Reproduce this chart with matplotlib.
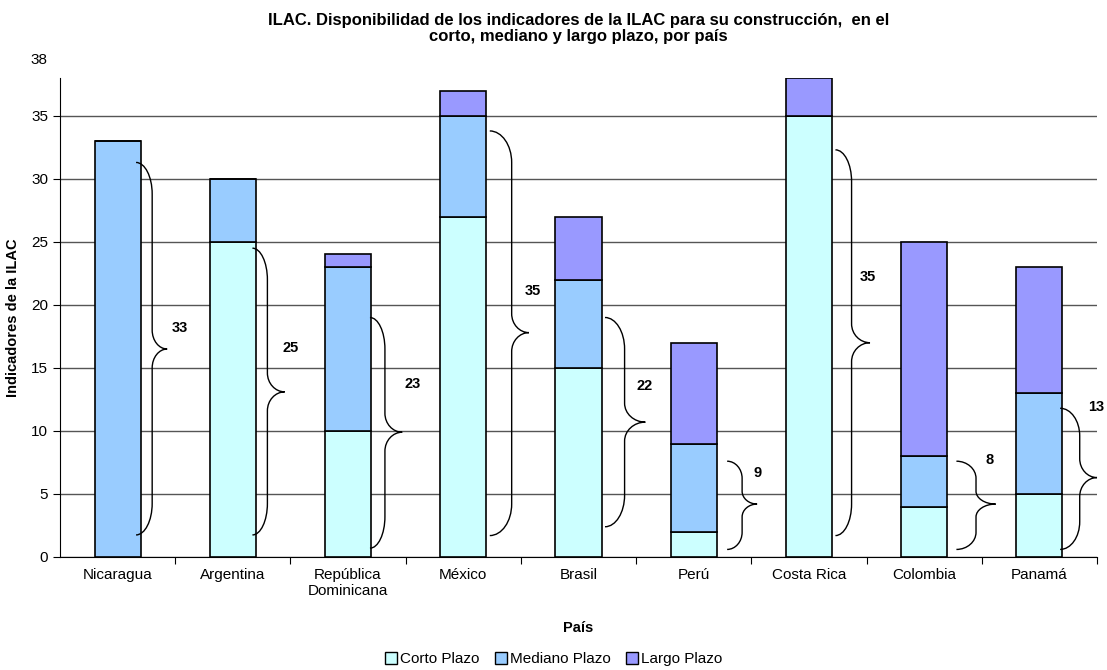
import matplotlib
matplotlib.use("Agg")
import matplotlib.pyplot as plt
from matplotlib.path import Path
from matplotlib.patches import PathPatch, Patch

plt.rcParams['font.family'] = ['Liberation Sans', 'DejaVu Sans']

# data
paises = ['Nicaragua', 'Argentina', 'República\nDominicana', 'México', 'Brasil',
          'Perú', 'Costa Rica', 'Colombia', 'Panamá']
corto = [0, 25, 10, 27, 15, 2, 35, 4, 5]
mediano = [33, 5, 13, 8, 7, 7, 0, 4, 8]
largo = [0, 0, 1, 2, 5, 8, 3, 17, 10]
brace_labels = [33, 25, 23, 35, 22, 9, 35, 8, 13]

# brace extents (top, tip, bottom) in axis units
brace_top = [31.3, 24.5, 19.0, 33.8, 19.0, 7.6, 32.3, 7.6, 11.8]
brace_mid = [16.5, 13.1, 9.9, 17.8, 10.7, 4.2, 17.0, 4.2, 6.3]
brace_bot = [1.75, 1.75, 0.7, 1.7, 2.4, 0.6, 1.7, 0.6, 0.6]
# x offsets from bar centre: start, vertical stroke, tip, label x
brace_x = [(0.16, 0.30, 0.43, 0.54), (0.17, 0.30, 0.45, 0.50),
           (0.19, 0.32, 0.47, 0.56), (0.23, 0.42, 0.57, 0.60),
           (0.23, 0.40, 0.58, 0.57), (0.29, 0.42, 0.55, 0.55),
           (0.23, 0.37, 0.53, 0.51), (0.28, 0.45, 0.62, 0.57),
           (0.18, 0.35, 0.50, 0.49)]
label_y = [18.2, 16.6, 13.7, 21.1, 13.6, 6.7, 22.2, 7.7, 11.9]

c_corto = '#CCFFFF'
c_mediano = '#99CCFF'
c_largo = '#9999FF'


def brace(ax, xc, top, mid, bot, offs):
    x0, x1, x2 = xc + offs[0], xc + offs[1], xc + offs[2]
    r1 = min(2.5, 0.4 * (top - mid))
    r2 = min(1.5, 0.3 * (top - mid))
    k = 0.55
    verts = [(x0, top),
             (x0 + k * (x1 - x0), top), (x1, top - (1 - k) * r1), (x1, top - r1),
             (x1, mid + r2),
             (x1, mid + (1 - k) * r2), (x1 + (1 - k) * (x2 - x1), mid), (x2, mid),
             (x1 + (1 - k) * (x2 - x1), mid), (x1, mid - (1 - k) * r2), (x1, mid - r2),
             (x1, bot + r1),
             (x1, bot + (1 - k) * r1), (x0 + k * (x1 - x0), bot), (x0, bot)]
    codes = [Path.MOVETO,
             Path.CURVE4, Path.CURVE4, Path.CURVE4,
             Path.LINETO,
             Path.CURVE4, Path.CURVE4, Path.CURVE4,
             Path.CURVE4, Path.CURVE4, Path.CURVE4,
             Path.LINETO,
             Path.CURVE4, Path.CURVE4, Path.CURVE4]
    ax.add_patch(PathPatch(Path(verts, codes), fill=False, lw=1.0,
                           edgecolor='black', zorder=4, clip_on=False))


fig = plt.figure(figsize=(11.07, 6.70), dpi=100)
ax = fig.add_axes([60 / 1107, 1 - 557 / 670, 1037 / 1107, 479 / 670])

x = list(range(len(paises)))
bottom2 = [a + b for a, b in zip(corto, mediano)]
ax.bar(x, corto, 0.4, color=c_corto, edgecolor='black', lw=1.2, zorder=3, label='Corto Plazo')
ax.bar(x, mediano, 0.4, bottom=corto, color=c_mediano, edgecolor='black', lw=1.2, zorder=3,
       label='Mediano Plazo')
ax.bar(x, largo, 0.4, bottom=bottom2, color=c_largo, edgecolor='black', lw=1.2, zorder=3,
       label='Largo Plazo')

for i in x:
    brace(ax, i, brace_top[i], brace_mid[i], brace_bot[i], brace_x[i])
    ax.text(i + brace_x[i][3], label_y[i], str(brace_labels[i]), ha='center', va='center',
            fontsize=10.5, fontweight='bold', zorder=5)

ax.set_xlim(-0.5, len(paises) - 0.5)
ax.set_ylim(0, 38)
ax.set_yticks(range(0, 36, 5))
ax.yaxis.grid(True, color='#555555', lw=1.0)
ax.set_axisbelow(True)
ax.set_xticks([i + 0.5 for i in x])
ax.set_xticklabels([])
ax.set_xticks(x, minor=True)
ax.set_xticklabels(paises, minor=True, fontsize=11)
ax.tick_params(axis='x', which='minor', length=0, pad=8)
ax.tick_params(axis='x', which='major', length=5, direction='out')
ax.tick_params(axis='y', labelsize=11, length=5, direction='out')
for s in ['top', 'right']:
    ax.spines[s].set_visible(False)
ax.annotate('38', xy=(0, 38), xycoords=('axes fraction', 'data'), xytext=(-9, 13),
            textcoords='offset points', ha='right', va='center', fontsize=11)

ax.set_ylabel('Indicadores de la ILAC', fontsize=10.5, fontweight='bold', labelpad=8)
ax.set_xlabel('País', fontsize=10.5, fontweight='bold', labelpad=16)
ax.set_title('ILAC. Disponibilidad de los indicadores de la ILAC para su construcción,  en el\n'
             'corto, mediano y largo plazo, por país', fontsize=12, fontweight='bold', pad=27,
             linespacing=1.05)

handles = [Patch(facecolor=c, edgecolor='black') for c in (c_corto, c_mediano, c_largo)]
fig.legend(handles, ['Corto Plazo', 'Mediano Plazo', 'Largo Plazo'], loc='center',
           bbox_to_anchor=(0.5, 1 - 659 / 670), ncol=3, frameon=False, fontsize=11,
           handlelength=0.8, handleheight=0.8, handletextpad=0.2, columnspacing=1.0)

fig.savefig('out.png', dpi=100)
